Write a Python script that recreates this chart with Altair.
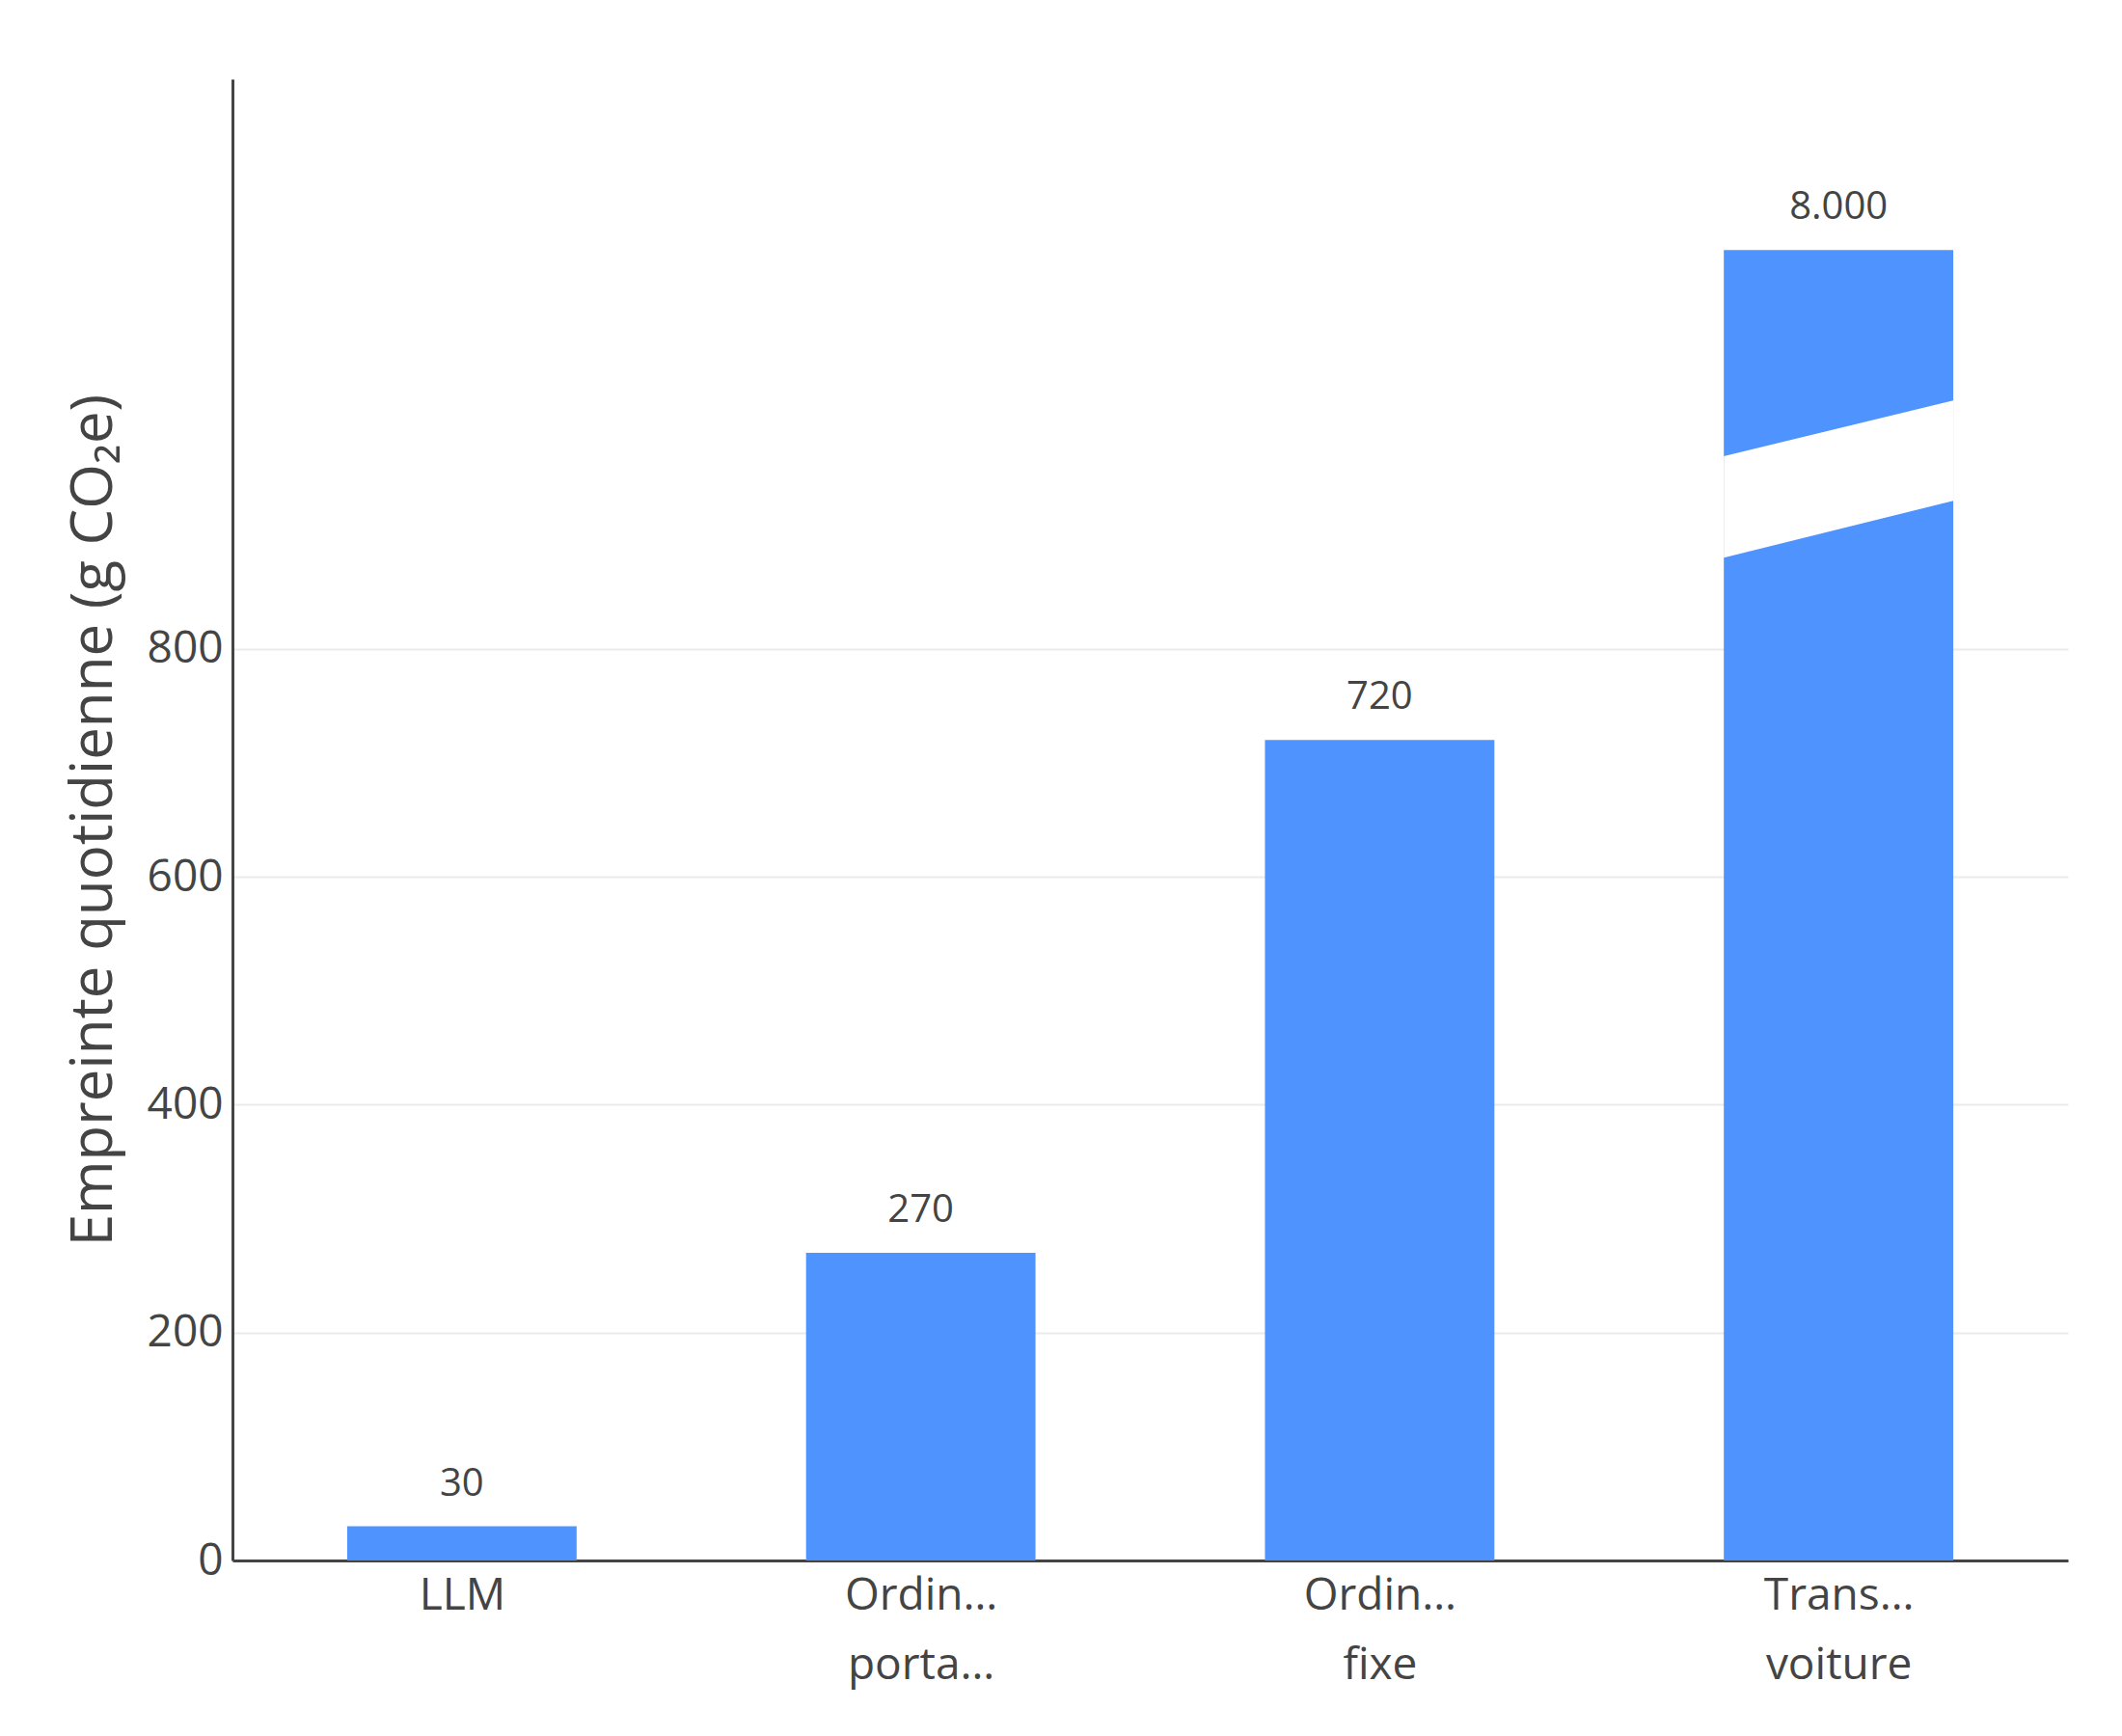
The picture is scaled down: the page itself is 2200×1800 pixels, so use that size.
import pandas as pd
import altair as alt

# --- data ---
categories = ["LLM", "Ordinateur portable", "Ordinateur fixe", "Transport en voiture"]
label_lines = [["LLM"], ["Ordinateur", "portable"], ["Ordinateur", "fixe"], ["Transport en", "voiture"]]
values = [30, 270, 720, 8000]
value_labels = ["30", "270", "720", "8.000"]
# the car bar is drawn truncated with an axis break
display_heights = [30, 270, 720, 1150]
break_x = [2.75, 3.25]
break_low = [880, 930]
break_high = [969, 1018]

BLUE = "#4a91fe"
TXT = "#444444"
FONT = "Open Sans"

df = pd.DataFrame({
    "cat": categories,
    "idx": list(range(len(categories))),
    "valeur": values,
    "hauteur": display_heights,
    "label": value_labels,
})
df["x0"] = df["idx"] - 0.25
df["x1"] = df["idx"] + 0.25

brk = pd.DataFrame({"x": break_x, "lo": break_low, "hi": break_high})

label_expr = "[" + ",".join(
    "[" + ",".join(f"'{s}'" for s in lines) + "]" for lines in label_lines
) + "][datum.value]"

xscale = alt.Scale(domain=[-0.5, 3.5], nice=False, zero=False)
yscale = alt.Scale(domain=[0, 1300], nice=False)

base = alt.Chart(df)

bars = base.mark_bar(color=BLUE, opacity=0.98).encode(
    x=alt.X("x0:Q", scale=xscale, axis=alt.Axis(
        title=None, values=[0, 1, 2, 3], labelExpr=label_expr, grid=False,
        ticks=False, labelFontSize=46, labelColor=TXT, labelFont=FONT,
        labelPadding=14, labelLineHeight=72, labelBaseline="top",
        domainColor=TXT, domainWidth=3)),
    x2="x1:Q",
    y=alt.Y("hauteur:Q", scale=yscale, axis=alt.Axis(
        title="Empreinte quotidienne (g CO₂e)", values=[0, 200, 400, 600, 800],
        grid=True, gridColor="#ebebeb", gridWidth=2, ticks=False,
        labelFontSize=46, labelColor=TXT, labelFont=FONT, labelPadding=10,
        titleFontSize=60, titleFontWeight="normal", titleColor=TXT, titleFont=FONT,
        titlePadding=24, domainColor=TXT, domainWidth=3)),
    y2=alt.datum(0),
)

gap = alt.Chart(brk).mark_area(color="white", orient="vertical").encode(
    x=alt.X("x:Q", scale=xscale),
    y=alt.Y("lo:Q", scale=yscale),
    y2="hi:Q",
)

texts = base.mark_text(dy=-24, baseline="bottom", fontSize=40, font=FONT, color=TXT).encode(
    x=alt.X("idx:Q", scale=xscale),
    y=alt.Y("hauteur:Q", scale=yscale),
    text="label:N",
)

chart = alt.layer(bars, gap, texts).properties(
    width=1903, height=1536,
    padding={"left": 233, "top": 74, "right": 48, "bottom": 170},
    autosize="none",
).configure(background="white").configure_view(strokeWidth=0, stroke=None)

chart.save("out.html", embed_options={"renderer": "svg", "actions": False})
